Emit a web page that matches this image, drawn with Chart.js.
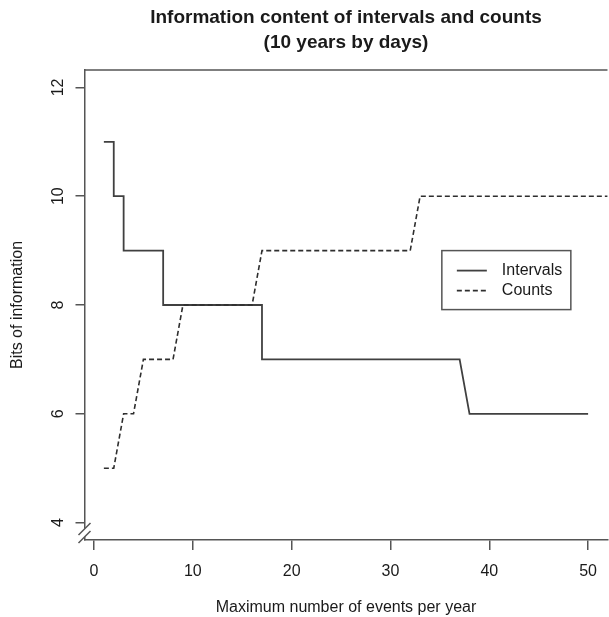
<!DOCTYPE html>
<html><head><meta charset="utf-8">
<script src="https://cdn.jsdelivr.net/npm/chart.js@4"></script>
<style>html,body{margin:0;padding:0;background:#fff;} canvas{display:block;}</style>
</head><body>
<canvas id="c" width="609" height="617"></canvas>
<script>
const titleLines = ['Information content of intervals and counts', '(10 years by days)'];
const xTitle = 'Maximum number of events per year';
const yTitle = 'Bits of information';
const xTicks = [0, 10, 20, 30, 40, 50];
const yTicks = [4, 6, 8, 10, 12];
const seriesNames = ['Intervals', 'Counts'];
const intervalX = [1, 2, 2, 3, 3, 7, 7, 17, 17, 37, 38, 50];
const intervalY = [11, 11, 10, 10, 9, 9, 8, 8, 7, 7, 6, 6];
const countX = [1, 2, 3, 4, 5, 8, 9, 16, 17, 32, 33, 52];
const countY = [5, 5, 6, 6, 7, 7, 8, 8, 9, 9, 10, 10];
const legendAt = { x: 35.2, y: 9.0 };

const FONT = '"Liberation Sans", Arial, sans-serif';
const LINE = '#404040';
const AXIS = '#555';
const TEXT = '#1a1a1a';

const decor = {
  id: 'decor',
  afterDraw(chart) {
    const { ctx, chartArea: a, scales } = chart;
    ctx.save();
    // top box line
    ctx.strokeStyle = AXIS; ctx.lineWidth = 1.5;
    ctx.beginPath(); ctx.moveTo(a.left, a.top); ctx.lineTo(a.right, a.top); ctx.stroke();
    // axis break on y axis near bottom
    const bx = a.left, by = a.bottom - 11;
    ctx.fillStyle = '#fff';
    ctx.beginPath();
    ctx.moveTo(bx - 6, by + 6); ctx.lineTo(bx + 6, by - 6); ctx.lineTo(bx + 6, by + 2); ctx.lineTo(bx - 6, by + 14); ctx.closePath();
    ctx.fill();
    ctx.beginPath();
    ctx.moveTo(bx - 6, by + 6); ctx.lineTo(bx + 6, by - 6);
    ctx.moveTo(bx - 6, by + 14); ctx.lineTo(bx + 6, by + 2);
    ctx.stroke();
    // legend
    const lx = scales.x.getPixelForValue(legendAt.x);
    const ly = scales.y.getPixelForValue(legendAt.y);
    ctx.strokeStyle = AXIS; ctx.lineWidth = 1.5;
    ctx.strokeRect(lx, ly, 129, 59);
    chart.data.datasets.forEach((ds, i) => {
      const yy = ly + 20 + i * 20;
      ctx.strokeStyle = ds.borderColor; ctx.lineWidth = ds.borderWidth;
      ctx.setLineDash(ds.borderDash || []);
      ctx.beginPath(); ctx.moveTo(lx + 15, yy); ctx.lineTo(lx + 45, yy); ctx.stroke();
      ctx.setLineDash([]);
      ctx.fillStyle = TEXT; ctx.font = '16px ' + FONT;
      ctx.textAlign = 'left'; ctx.textBaseline = 'middle';
      ctx.fillText(ds.label, lx + 60, yy);
    });
    // title
    ctx.fillStyle = TEXT; ctx.font = 'bold 19px ' + FONT;
    ctx.textAlign = 'center'; ctx.textBaseline = 'middle';
    const cx = (a.left + a.right) / 2;
    ctx.fillText(titleLines[0], cx, 18);
    ctx.fillText(titleLines[1], cx, 43);
    ctx.restore();
  }
};

new Chart(document.getElementById('c'), {
  type: 'line',
  data: {
    datasets: [
      { label: seriesNames[0], order: 1, data: intervalX.map((x, i) => ({ x, y: intervalY[i] })),
        borderColor: LINE, borderWidth: 1.8, pointRadius: 0, tension: 0, fill: false },
      { label: seriesNames[1], order: 0, data: countX.map((x, i) => ({ x, y: countY[i] })),
        borderColor: '#2e2e2e', borderWidth: 1.6, borderDash: [5, 3], pointRadius: 0, tension: 0, fill: false }
    ]
  },
  options: {
    responsive: false, animation: false,
    layout: { padding: { top: 70, right: 0, left: 0, bottom: 0 } },
    plugins: { legend: { display: false }, tooltip: { enabled: false }, title: { display: false } },
    scales: {
      x: {
        type: 'linear', min: -0.96, max: 51.96, bounds: 'data',
        afterBuildTicks: s => { s.ticks = xTicks.map(v => ({ value: v })); },
        afterFit: s => { s.height = 77; },
        ticks: { font: { size: 16, family: FONT }, color: TEXT, padding: 12, maxRotation: 0 },
        grid: { drawOnChartArea: false, drawTicks: true, tickLength: 10, color: AXIS, lineWidth: 1.5 },
        border: { display: true, color: AXIS, width: 1.5 },
        title: { display: true, text: xTitle, color: TEXT, font: { size: 16, family: FONT }, padding: { top: 0, bottom: 0 } }
      },
      y: {
        type: 'linear', min: 3.68, max: 12.32, bounds: 'data',
        afterBuildTicks: s => { s.ticks = yTicks.map(v => ({ value: v })); },
        afterFit: s => { s.width = 84.5; },
        ticks: { font: { size: 16, family: FONT }, color: TEXT, padding: 8, minRotation: 90, maxRotation: 90, crossAlign: 'center' },
        grid: { drawOnChartArea: false, drawTicks: true, tickLength: 9, color: AXIS, lineWidth: 1.5 },
        border: { display: true, color: AXIS, width: 1.5 },
        title: { display: true, text: yTitle, color: TEXT, font: { size: 16, family: FONT }, padding: { top: 8, bottom: 0 } }
      }
    }
  },
  plugins: [decor]
});
</script>
</body></html>
